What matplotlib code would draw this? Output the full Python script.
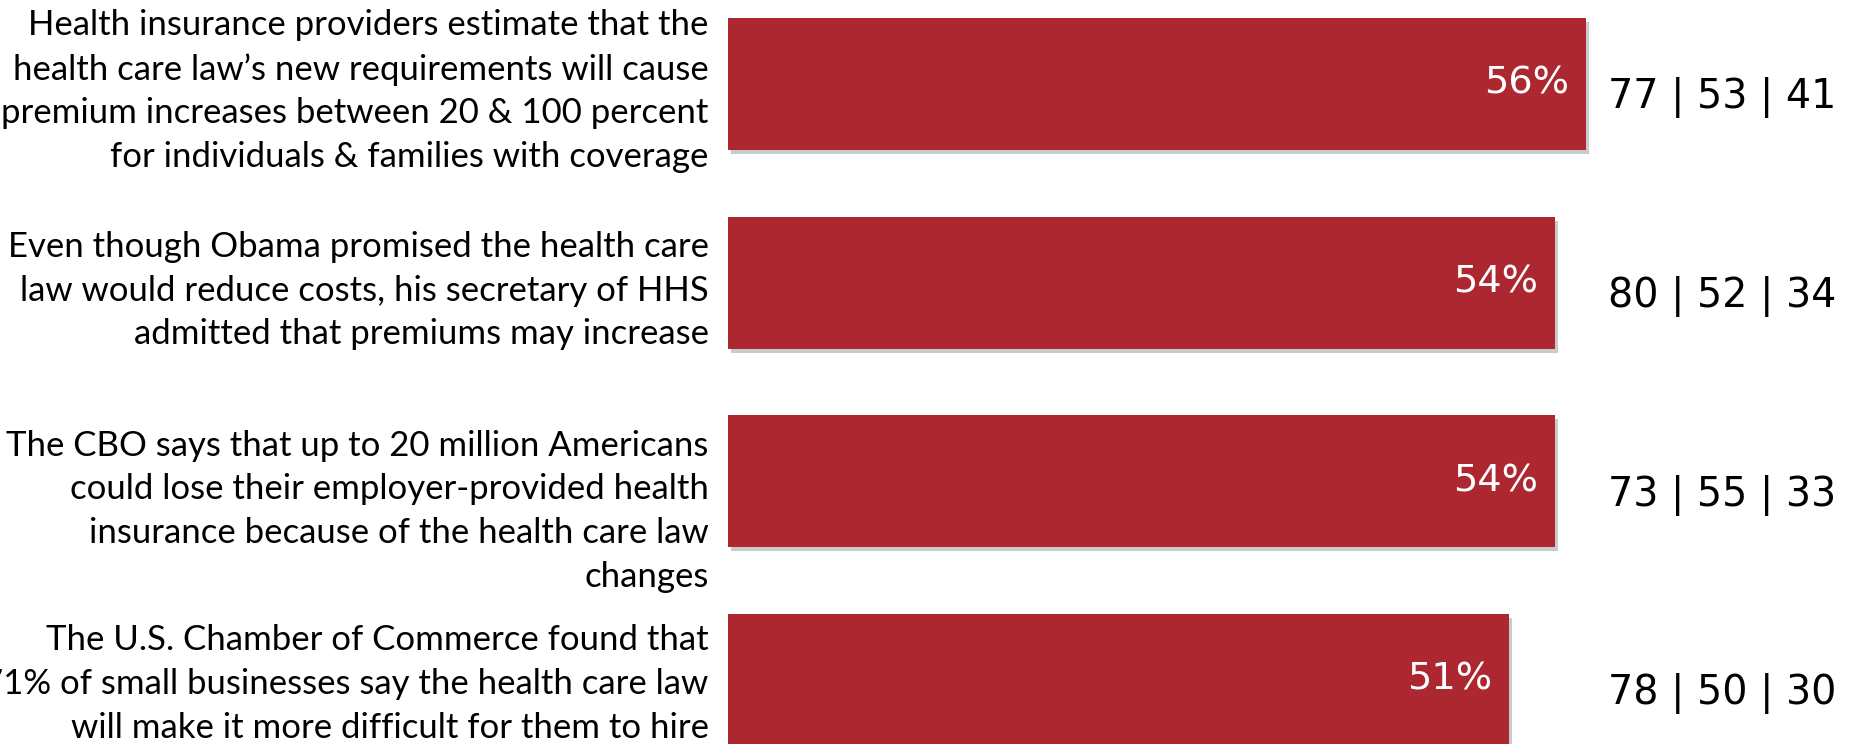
import matplotlib.pyplot as plt
import matplotlib.patheffects as pe

statements = [
    "Health insurance providers estimate that the\nhealth care law\u2019s new requirements will cause\npremium increases between 20 & 100 percent\nfor individuals & families with coverage",
    "Even though Obama promised the health care\nlaw would reduce costs, his secretary of HHS\nadmitted that premiums may increase",
    "The CBO says that up to 20 million Americans\ncould lose their employer-provided health\ninsurance because of the health care law\nchanges",
    "The U.S. Chamber of Commerce found that\n71% of small businesses say the health care law\nwill make it more difficult for them to hire",
]
totals = [56, 54, 54, 51]
groups = ["77 | 53 | 41", "80 | 52 | 34", "73 | 55 | 33", "78 | 50 | 30"]

W, H = 1851, 744
fig = plt.figure(figsize=(W / 100, H / 100), dpi=100)
x0 = 728
ppu = 15.32
pitch = 198.7
c0 = 83.9
ax = fig.add_axes([x0 / W, 0, 1 - x0 / W, 1])
ax.set_xlim(0, (W - x0) / ppu)
ax.set_ylim((H - c0) / pitch, -c0 / pitch)
ax.axis("off")

ypos = list(range(len(totals)))
bars = ax.barh(ypos, totals, height=0.664, color="#AD2731")
for b in bars:
    b.set_path_effects([pe.SimplePatchShadow(offset=(2, -3), shadow_rgbFace="#999999", alpha=0.5), pe.Normal()])

text_off = [0.036, 0.04, 0.15, 0.02]
for i, (s, t, g) in enumerate(zip(statements, totals, groups)):
    ax.text(t - 1.1, i, f"{t}%", color="white", ha="right", va="center",
            fontsize=27.5, family="DejaVu Sans")
    ax.text((1608 - x0) / ppu, i + 0.07, g, color="black", ha="left", va="center",
            fontsize=28.5, family="DejaVu Sans")
    ax.text(-19.5 / ppu, i + text_off[i], s, ha="right", va="center", fontsize=25,
            family="Lato", linespacing=1.45, color="black")

fig.savefig("out.png", dpi=100)
